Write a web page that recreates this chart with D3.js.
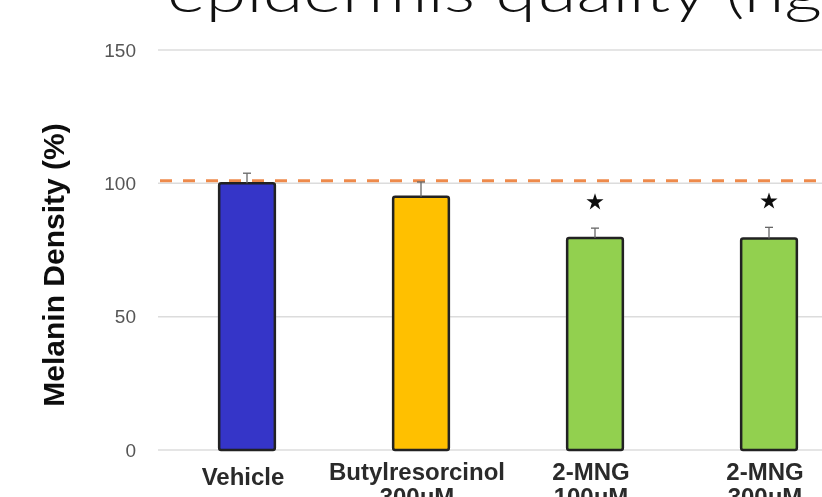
<!DOCTYPE html>
<meta charset="utf-8">
<style>
  body { margin: 0; background: #fff; }
  svg { display: block; }
</style>
<body>
<div class="chart"></div>
<script src="https://d3js.org/d3.v7.min.js"></script>
<script>

    // values
    const groupLabels = [["Vehicle"], ["Butylresorcinol", "300μM"], ["2-MNG", "100μM"], ["2-MNG", "300μM"]];
    const density = [100, 95, 79.5, 79.3];
    const densityErr = [3.8, 5.5, 3.7, 4.2];
    const significant = [false, false, true, true];
    const barColors = ["#3535c8", "#ffc000", "#92d050", "#92d050"];
    const yTicks = [0, 50, 100, 150];
    const referenceLevel = 101;
    const titleText = "epidermis quality (ng";

    let width = 822, height = 497;

    let svg = d3.select(".chart").append("svg")
        .attr("width", width)
        .attr("height", height);

    // the figure is a blurry scan, soften the plot a bit
    let defs = svg.append("defs");
    defs.append("filter").attr("id", "soft")
        .append("feGaussianBlur").attr("stdDeviation", 0.6);

    // title cut by the top edge
    svg.append("text")
        .attr("x", 167)
        .attr("y", 12)
        .attr("textLength", 655)
        .attr("lengthAdjust", "spacingAndGlyphs")
        .style("font-family", "Lato, 'Open Sans', sans-serif")
        .style("font-weight", 300)
        .style("font-size", "56px")
        .attr("fill", "#111")
        .text(titleText);

    let idx = d3.range(density.length);

    let x = d3.scaleBand()
        .domain(idx)
        .range([160, 856])
        .paddingInner(0.68)
        .paddingOuter(0.34);

    let y = d3.scaleLinear()
        .domain([0, 150])
        .range([450, 50]);

    let g = svg.append("g").attr("filter", "url(#soft)");

    // gridlines
    g.append("g")
        .selectAll("line")
        .data(yTicks)
        .join("line")
        .attr("x1", 158)
        .attr("x2", width)
        .attr("y1", d => y(d))
        .attr("y2", d => y(d))
        .attr("stroke", "#dcdcdc")
        .attr("stroke-width", 1.5);

    // tick labels
    g.append("g")
        .selectAll("text")
        .data(yTicks)
        .join("text")
        .attr("x", 136)
        .attr("y", d => y(d))
        .attr("dy", "0.35em")
        .attr("text-anchor", "end")
        .style("font-family", "'Liberation Sans', Arial, sans-serif")
        .style("font-size", "19px")
        .attr("fill", "#555")
        .text(d => d);

    // y axis title
    g.append("text")
        .attr("transform", "translate(64,265) rotate(-90)")
        .attr("text-anchor", "middle")
        .style("font-family", "'Liberation Sans', Arial, sans-serif")
        .style("font-weight", "bold")
        .style("font-size", "30px")
        .attr("fill", "#111")
        .text("Melanin Density (%)");

    // reference line
    g.append("line")
        .attr("x1", 160)
        .attr("x2", width)
        .attr("y1", y(referenceLevel))
        .attr("y2", y(referenceLevel))
        .attr("stroke", "#ee8a4c")
        .attr("stroke-width", 3)
        .attr("stroke-dasharray", "12,11");

    // bars
    g.append("g")
        .selectAll("rect")
        .data(idx)
        .join("rect")
        .attr("x", i => x(i))
        .attr("y", i => y(density[i]))
        .attr("width", x.bandwidth())
        .attr("height", i => y(0) - y(density[i]))
        .attr("rx", 2)
        .attr("fill", i => barColors[i])
        .attr("stroke", "#222")
        .attr("stroke-width", 2.5);

    // error bars
    let err = g.append("g")
        .attr("stroke", "#666")
        .attr("stroke-width", 1.3)
        .selectAll("g")
        .data(idx)
        .join("g");
    err.append("line")
        .attr("x1", i => x(i) + x.bandwidth() / 2)
        .attr("x2", i => x(i) + x.bandwidth() / 2)
        .attr("y1", i => y(density[i]))
        .attr("y2", i => y(density[i] + densityErr[i]));
    err.append("line")
        .attr("x1", i => x(i) + x.bandwidth() / 2 - 4)
        .attr("x2", i => x(i) + x.bandwidth() / 2 + 4)
        .attr("y1", i => y(density[i] + densityErr[i]))
        .attr("y2", i => y(density[i] + densityErr[i]));

    // significance stars
    g.append("g")
        .selectAll("path")
        .data(idx.filter(i => significant[i]))
        .join("path")
        .attr("d", d3.symbol().type(d3.symbolStar).size(90))
        .attr("transform", i => `translate(${x(i) + x.bandwidth() / 2},${y(density[i] + densityErr[i]) - 26})`)
        .attr("fill", "#111");

    // category labels
    let lab = g.append("g")
        .selectAll("text")
        .data(idx)
        .join("text")
        .attr("text-anchor", "middle")
        .style("font-family", "'Liberation Sans', Arial, sans-serif")
        .style("font-weight", "bold")
        .style("font-size", "24px")
        .attr("fill", "#2a2a2a")
        .attr("transform", i => `translate(${x(i) + x.bandwidth() / 2 - 4},${groupLabels[i].length > 1 ? 480 : 485})`);
    lab.selectAll("tspan")
        .data(i => groupLabels[i])
        .join("tspan")
        .attr("x", 0)
        .attr("dy", (d, k) => k ? 25 : 0)
        .text(d => d);

</script>
</body>
